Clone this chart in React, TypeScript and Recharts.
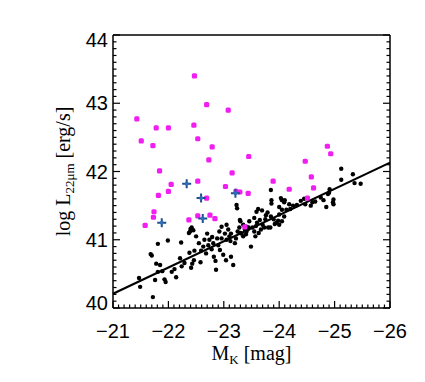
import { ScatterChart, Scatter, XAxis, YAxis, ReferenceLine } from "recharts";

// [M_K, log L22]
const normalGalaxies: [number, number][] = [
    [-21.47, 40.44], [-21.49, 40.31], [-21.72, 40.16], [-21.76, 40.41], [-21.93, 40.42], [-21.95, 40.38],
    [-21.81, 40.53], [-21.89, 40.54], [-21.78, 40.65], [-21.85, 40.63], [-21.70, 40.77], [-21.68, 40.79],
    [-21.81, 40.94], [-21.99, 40.99], [-22.23, 40.96], [-22.06, 40.53], [-22.14, 40.45], [-22.11, 40.57],
    [-22.24, 40.61], [-22.21, 40.73], [-22.29, 40.66], [-22.41, 40.59], [-22.43, 40.65], [-22.46, 40.70],
    [-22.58, 40.67], [-22.38, 40.81], [-22.47, 40.84], [-22.59, 40.84], [-22.63, 40.90], [-22.70, 41.09],
    [-22.65, 41.00], [-22.37, 41.10], [-22.42, 41.18], [-22.45, 41.14], [-22.39, 41.12], [-22.40, 41.16],
    [-22.74, 41.00], [-22.78, 40.86], [-22.82, 40.75], [-22.85, 40.69], [-22.86, 40.56], [-22.81, 40.95],
    [-22.90, 40.92], [-22.93, 40.85], [-22.96, 41.02], [-23.02, 41.09], [-23.05, 41.00], [-22.96, 41.19],
    [-23.05, 41.22], [-23.17, 40.63], [-23.23, 41.51], [-23.24, 41.46], [-23.29, 41.29], [-23.30, 41.27],
    [-23.13, 41.09], [-23.20, 40.95], [-23.32, 41.09], [-23.41, 41.19], [-23.44, 41.16], [-23.04, 40.70],
    [-23.13, 40.75], [-22.99, 40.78], [-22.79, 41.04], [-22.50, 41.05], [-22.55, 40.95], [-22.68, 40.80],
    [-22.72, 40.92], [-22.88, 41.02], [-22.92, 41.12], [-23.08, 41.15], [-23.10, 41.05], [-23.12, 40.98],
    [-23.25, 41.12], [-23.28, 41.18], [-23.22, 41.02], [-23.35, 41.22], [-23.46, 41.27], [-23.55, 41.32],
    [-23.41, 41.12], [-23.49, 40.90], [-23.35, 41.05], [-23.38, 41.15], [-23.45, 41.18], [-23.40, 41.08],
    [-23.30, 41.10], [-23.55, 41.12], [-23.52, 41.18], [-23.58, 41.20], [-23.62, 41.45], [-23.59, 41.41],
    [-23.69, 41.43], [-23.65, 41.29], [-23.84, 41.18], [-23.73, 41.18], [-23.80, 41.18], [-23.85, 41.34],
    [-23.90, 41.30], [-23.95, 41.25], [-23.92, 41.23], [-24.00, 41.22], [-24.05, 41.27], [-23.98, 41.28],
    [-24.00, 41.37], [-24.09, 41.34], [-24.05, 41.44], [-24.13, 41.44], [-23.86, 41.58], [-23.86, 41.53],
    [-23.85, 41.73], [-24.03, 41.61], [-24.05, 41.58], [-24.10, 41.58], [-24.09, 41.55], [-24.18, 41.52],
    [-24.32, 41.51], [-24.39, 41.57], [-24.47, 41.52], [-24.57, 41.50], [-24.65, 41.56], [-24.85, 41.48],
    [-24.88, 41.67], [-24.90, 41.69], [-24.91, 41.74], [-24.98, 41.59], [-24.97, 41.55], [-24.98, 41.52],
    [-25.12, 42.04], [-25.33, 41.96], [-25.12, 41.88], [-25.36, 41.83], [-25.47, 41.82], [-23.60, 41.25],
    [-23.70, 41.22], [-23.75, 41.30], [-23.67, 41.15], [-23.63, 41.10], [-23.57, 41.05], [-23.76, 41.36],
    [-23.79, 41.40], [-24.00, 41.48], [-24.20, 41.45], [-24.25, 41.50], [-24.45, 41.60], [-24.60, 41.55],
    [-24.75, 41.62], [-24.80, 41.58],
];

const irExcess: [number, number][] = [
    [-22.47, 43.40], [-22.69, 42.98], [-23.08, 42.90], [-21.43, 42.77], [-21.78, 42.64], [-22.00, 42.64],
    [-22.46, 42.68], [-21.51, 42.45], [-21.72, 42.38], [-22.53, 42.48], [-22.79, 42.36], [-22.73, 42.17],
    [-23.45, 42.22], [-21.84, 42.01], [-23.15, 41.98], [-24.87, 42.37], [-24.93, 42.26], [-24.47, 42.15],
    [-24.58, 41.92], [-24.62, 41.76], [-23.89, 41.86], [-24.18, 41.74], [-22.05, 41.81], [-22.53, 41.86],
    [-23.03, 41.78], [-22.00, 41.71], [-21.82, 41.65], [-23.44, 41.68], [-23.22, 41.71], [-23.29, 41.70],
    [-21.58, 41.21], [-21.73, 41.33], [-21.74, 41.41], [-22.37, 41.29], [-22.53, 41.35], [-22.69, 41.61],
    [-22.75, 41.36], [-22.84, 41.31], [-23.38, 41.19], [-24.51, 41.61],
];

const crossPoints: [number, number][] = [
    [-22.33, 41.82], [-22.59, 41.61], [-23.21, 41.68], [-22.62, 41.31], [-21.88, 41.25],
];

const fitLine: [number, number][] = [[-21, 40.21], [-26, 42.13]];

const xMajor = [-21, -22, -23, -24, -25, -26];
const yMajor = [40, 41, 42, 43, 44];

function withMinor(majors: number[]) {
    const lo = Math.min(...majors);
    const hi = Math.max(...majors);
    const out: number[] = [];
    for (let i = 0; i <= Math.round((hi - lo) * 10); i++) out.push(Math.round((lo + i / 10) * 10) / 10);
    return out;
}
const xTicks = withMinor(xMajor);
const yTicks = withMinor(yMajor);

const toPts = (arr: [number, number][]) => arr.map(([x, y]) => ({ x, y }));
const isMajor = (v: number) => Math.abs(v - Math.round(v)) < 1e-6;
const tickFont = { fontFamily: "Liberation Sans, Arial, sans-serif", fontSize: 20, fill: "#000" };
const titleFont = { fontFamily: "Liberation Serif, Times New Roman, serif", fill: "#000" };

// ticks point inward, like the IDL box frame
function XTick({ x, y, payload, side }: any) {
    const v = payload.value;
    const len = isMajor(v) ? 7 : 3.5;
    const dir = side === "bottom" ? -1 : 1;
    return (
        <g>
            <path d={`M${x},${y}V${y + dir * len}`} stroke="#000" strokeWidth={1.2} fill="none" />
            {side === "bottom" && isMajor(v) && (
                <text x={x} y={y + 30} textAnchor="middle" {...tickFont}>
                    {"\u2212" + Math.abs(v)}
                </text>
            )}
        </g>
    );
}

function YTick({ x, y, payload, side }: any) {
    const v = payload.value;
    const len = isMajor(v) ? 7 : 3.5;
    const dir = side === "left" ? 1 : -1;
    const shift = v === 44 ? 5 : v === 40 ? -5 : 0;
    return (
        <g>
            <path d={`M${x},${y}H${x + dir * len}`} stroke="#000" strokeWidth={1.2} fill="none" />
            {side === "left" && isMajor(v) && (
                <text x={x - 5} y={y + shift} dy="0.35em" textAnchor="end" {...tickFont}>
                    {v}
                </text>
            )}
        </g>
    );
}

function XTitle({ viewBox }: any) {
    const cx = viewBox.x + viewBox.width / 2;
    return (
        <text x={cx} y={viewBox.y + 52} textAnchor="middle" fontSize={20} {...titleFont}>
            M<tspan fontSize={13} dy={4}>K</tspan>
            <tspan dy={-4}> [mag]</tspan>
        </text>
    );
}

function YTitle({ viewBox }: any) {
    const cx = 62;
    const cy = viewBox.y + viewBox.height / 2;
    return (
        <text x={cx} y={cy} textAnchor="middle" fontSize={20} transform={`rotate(-90, ${cx}, ${cy})`} {...titleFont}>
            log L<tspan fontSize={13} dy={4}>22μm</tspan>
            <tspan dy={-4}> [erg/s]</tspan>
        </text>
    );
}

const Dot = ({ cx, cy }: any) => <circle cx={cx} cy={cy} r={2.2} fill="#000" />;
const MagentaDot = ({ cx, cy }: any) => <rect x={cx - 2.6} y={cy - 2.6} width={5.2} height={5.2} rx={1.5} fill="#f01ef0" />;
const Cross = ({ cx, cy }: any) => (
    <g>
        <path d={`M${cx - 4.5},${cy}H${cx + 4.5}M${cx},${cy - 4.5}V${cy + 4.5}`} stroke="#1d4f8e" strokeWidth={2} />
        <circle cx={cx} cy={cy} r={2} fill="#2f6db5" />
    </g>
);

export default function App() {
    const axisLine = { stroke: "#000", strokeWidth: 1.5 };
    return (
        <ScatterChart width={409} height={366} margin={{ top: 26, right: 26, bottom: 0, left: 0 }}>
            <XAxis xAxisId="b" type="number" dataKey="x" domain={[-26, -21]} reversed ticks={xTicks} interval={0}
                tickLine={false} tickSize={0} tickMargin={0} height={66} axisLine={axisLine}
                tick={(p: any) => <XTick {...p} side="bottom" />} label={(p: any) => <XTitle {...p} />} allowDataOverflow />
            <XAxis xAxisId="t" orientation="top" type="number" domain={[-26, -21]} reversed ticks={xTicks} interval={0}
                tickLine={false} tickSize={0} tickMargin={0} height={1} axisLine={axisLine}
                tick={(p: any) => <XTick {...p} side="top" />} allowDataOverflow />
            <YAxis yAxisId="l" type="number" dataKey="y" domain={[40, 44]} ticks={yTicks} interval={0}
                tickLine={false} tickSize={0} tickMargin={0} width={105} axisLine={axisLine}
                tick={(p: any) => <YTick {...p} side="left" />} label={(p: any) => <YTitle {...p} />} allowDataOverflow />
            <YAxis yAxisId="r" orientation="right" type="number" domain={[40, 44]} ticks={yTicks} interval={0}
                tickLine={false} tickSize={0} tickMargin={0} width={1} axisLine={axisLine}
                tick={(p: any) => <YTick {...p} side="right" />} allowDataOverflow />
            <Scatter xAxisId="b" yAxisId="l" data={toPts(normalGalaxies)} shape={Dot} isAnimationActive={false} />
            <ReferenceLine xAxisId="b" yAxisId="l"
                segment={fitLine.map(([x, y]) => ({ x, y }))} stroke="#000" strokeWidth={2.2} />
            <Scatter xAxisId="b" yAxisId="l" data={toPts(irExcess)} shape={MagentaDot} isAnimationActive={false} />
            <Scatter xAxisId="b" yAxisId="l" data={toPts(crossPoints)} shape={Cross} isAnimationActive={false} />
        </ScatterChart>
    );
}
